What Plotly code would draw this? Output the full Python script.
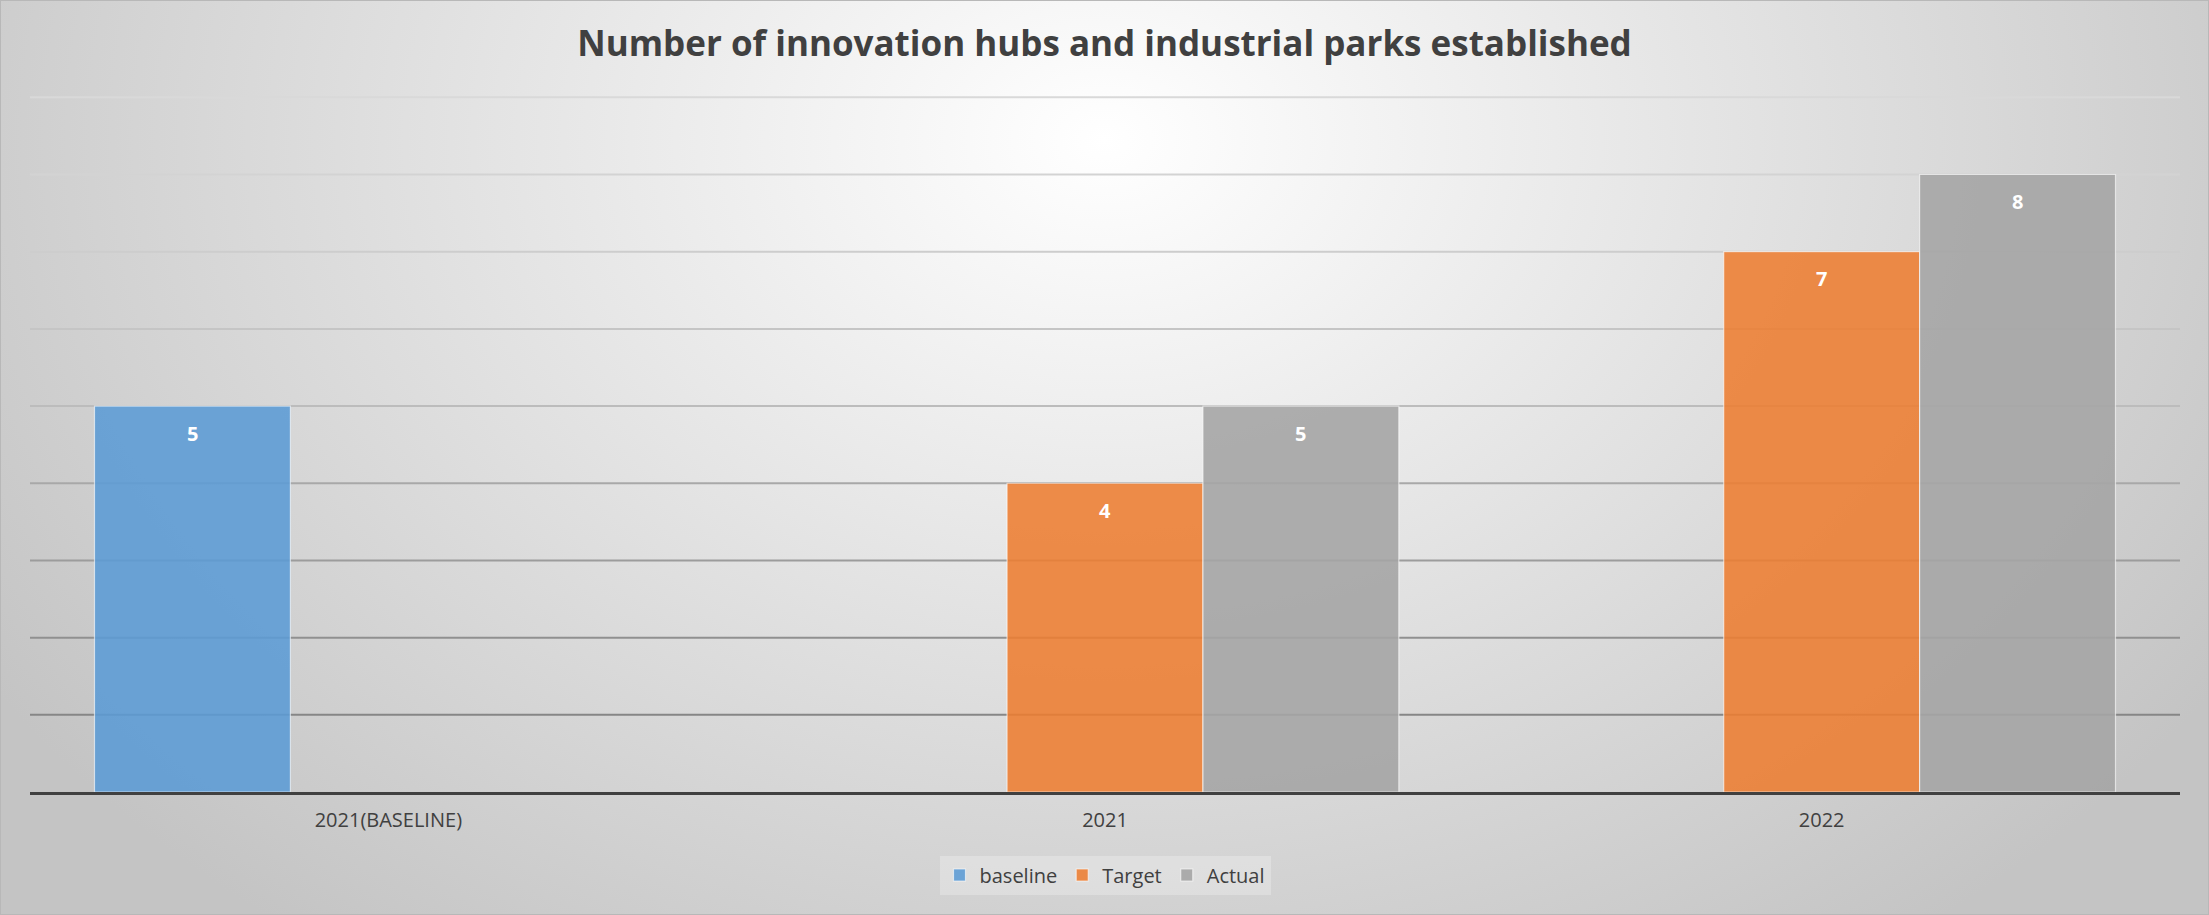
import base64
import plotly.graph_objects as go

# Chart data
categories = ["2021(BASELINE)", "2021", "2022"]
baseline = [5, None, None]
target = [None, 4, 7]
actual = [None, 5, 8]

series_names = ["baseline", "Target", "Actual"]
series_values = [baseline, target, actual]
series_colors = ["rgba(91,155,213,0.88)", "rgba(237,125,49,0.88)", "rgba(165,165,165,0.9)"]

# Horizontal guide levels, shaded darker towards the axis
grid_levels = [1, 2, 3, 4, 5, 6, 7, 8, 9]
grid_colors = ["#868686", "#909090", "#9c9c9c", "#a8a8a8", "#bcbcbc",
               "#c5c5c5", "#cdcdcd", "#d3d3d3", "#d9d9d9"]

W, H = 2209, 915
M_L, M_R, M_T, M_B = 30, 29, 95, 123
Y_TOP = 9.03
PW, PH = W - M_L - M_R, H - M_T - M_B
BARGAP = 0.18
n_series = len(series_names)
bar_w = (1 - BARGAP) / n_series

# Radial background shading (light centre near the title, grey towards the edges)
svg = f"""<svg xmlns='http://www.w3.org/2000/svg' width='{W}' height='{H}' viewBox='0 0 {W} {H}' preserveAspectRatio='none'>
<defs><radialGradient id='g' cx='{W/2}' cy='140' r='1' gradientUnits='userSpaceOnUse'
 gradientTransform='translate({W/2} 140) scale(1330 1000) translate({-W/2} -140)'>
<stop offset='0' stop-color='#ffffff'/><stop offset='1' stop-color='#c4c4c4'/></radialGradient></defs>
<rect width='{W}' height='{H}' fill='url(#g)'/>
<rect x='0.5' y='0.5' width='{W-1}' height='{H-1}' fill='none' stroke='#b8b8b8' stroke-width='1'/>
</svg>"""
bg_src = "data:image/svg+xml;base64," + base64.b64encode(svg.encode()).decode()

fig = go.Figure()
xs = list(range(len(categories)))
for name, vals, col in zip(series_names, series_values, series_colors):
    fig.add_trace(go.Bar(
        x=xs, y=vals, name=name,
        marker=dict(color=col, line=dict(color="rgba(255,255,255,0.6)", width=1.2)),
        hoverinfo="skip",
    ))

# Value labels just inside the top of each bar
annotations = []
for k, vals in enumerate(series_values):
    for i, v in enumerate(vals):
        if v is None:
            continue
        annotations.append(dict(
            x=i + (k - (n_series - 1) / 2) * bar_w, y=v, xref="x", yref="y",
            text=f"<b>{v}</b>", showarrow=False, yshift=-27,
            font=dict(family="Open Sans", size=20, color="#ffffff"),
        ))

shapes = [
    dict(type="line", xref="paper", x0=0, x1=1, yref="y", y0=lv, y1=lv,
         line=dict(color=c, width=2), layer="below")
    for lv, c in zip(grid_levels, grid_colors)
]

fig.update_layout(
    width=W, height=H,
    margin=dict(l=M_L, r=M_R, t=M_T, b=M_B),
    paper_bgcolor="#d6d6d6",
    plot_bgcolor="rgba(0,0,0,0)",
    barmode="group", bargap=BARGAP, bargroupgap=0,
    title=dict(
        text="<b>Number of innovation hubs and industrial parks established</b>",
        x=0.5, xanchor="center", y=1 - 44 / H, yanchor="middle",
        font=dict(family="Open Sans", size=35, color="#404040"),
    ),
    font=dict(family="Open Sans", color="#404040"),
    xaxis=dict(
        range=[-0.5, len(categories) - 0.5],
        tickvals=xs, ticktext=categories,
        tickfont=dict(size=20, color="#404040"),
        showgrid=False, zeroline=False,
        showline=True, linecolor="#404040", linewidth=3,
        ticks="outside", ticklen=8, tickcolor="rgba(0,0,0,0)",
    ),
    yaxis=dict(
        range=[0, Y_TOP], showticklabels=False,
        showgrid=False, zeroline=False,
    ),
    legend=dict(
        orientation="h", x=0.5, xanchor="center", y=-83 / PH, yanchor="middle",
        bgcolor="rgba(255,255,255,0.25)", font=dict(size=20, color="#404040"),
        itemwidth=30,
    ),
    annotations=annotations,
    shapes=shapes,
    images=[dict(
        source=bg_src, xref="paper", yref="paper",
        x=-M_L / PW, y=1 + M_T / PH, sizex=W / PW, sizey=H / PH,
        xanchor="left", yanchor="top", sizing="stretch", layer="below",
    )],
)

fig.write_html("out.html")
